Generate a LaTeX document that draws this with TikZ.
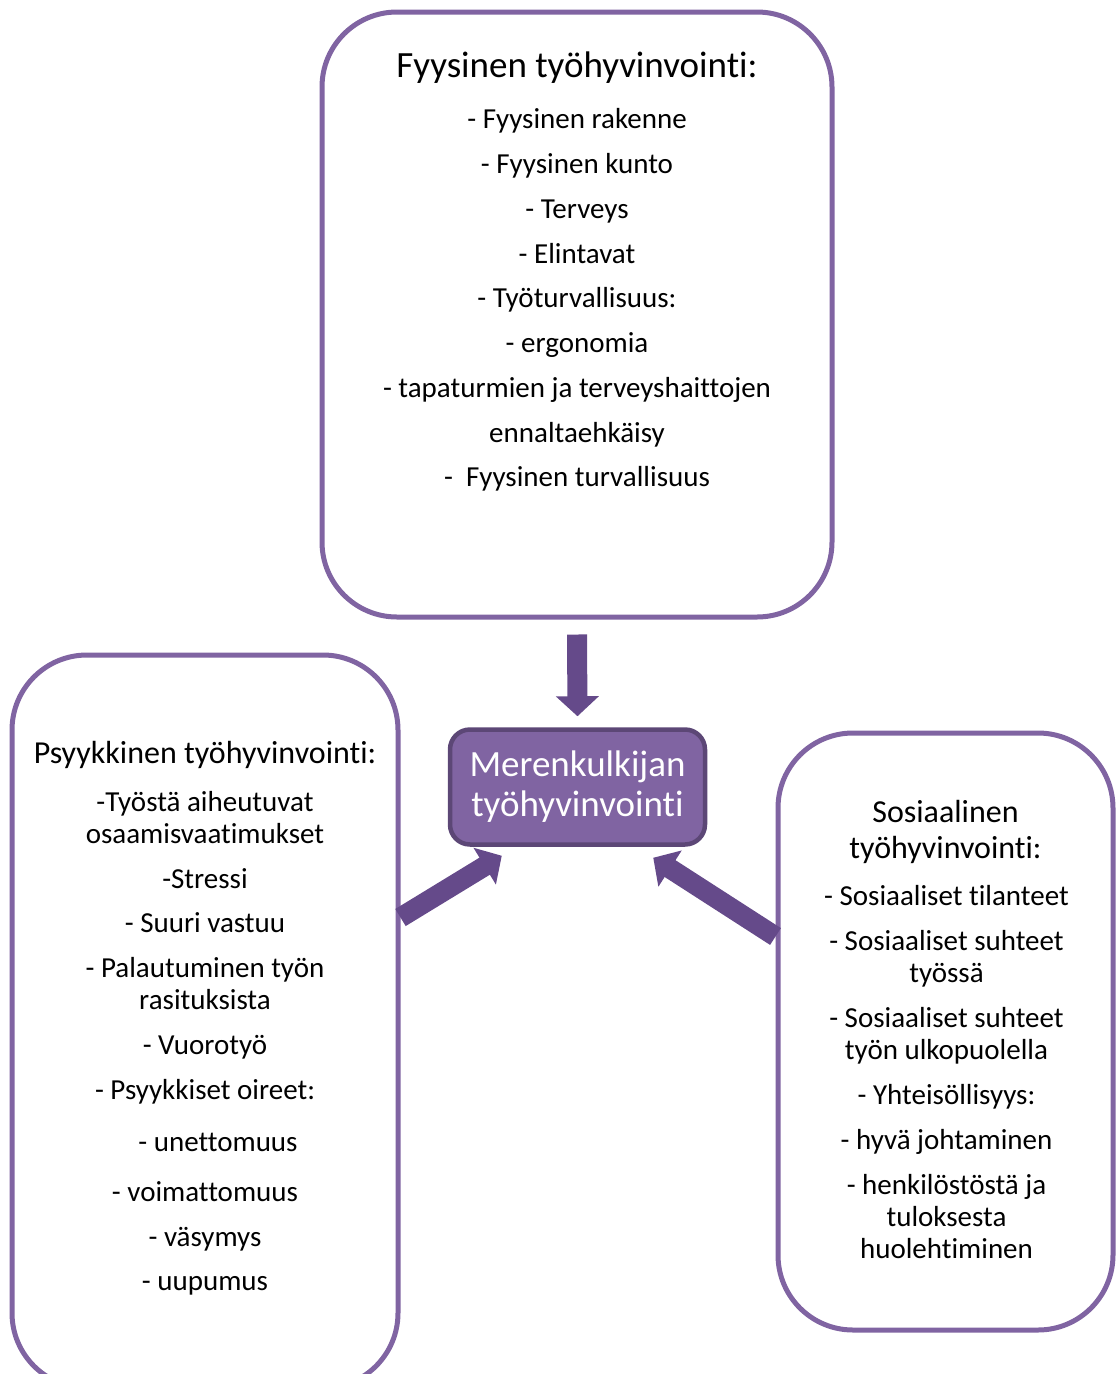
\documentclass[tikz,border=0pt]{standalone}
\usepackage{fontspec}
\setmainfont{Carlito}[Ligatures=NoCommon]
\usetikzlibrary{arrows.meta}
\definecolor{boxpurple}{HTML}{8064A2}
\definecolor{darkpurple}{HTML}{5C4776}
\definecolor{arrowpurple}{HTML}{654A8A}

\tikzset{
  areabox/.style={draw=boxpurple, line width=5pt, rounded corners=75pt, inner sep=0pt},
  headline/.style={font=\fontsize{32}{36}\selectfont, text height=27pt, text depth=8pt, inner sep=0pt},
  itemline/.style={font=\fontsize{29}{32}\selectfont, text height=25pt, text depth=7pt, inner sep=0pt},
  bigarrow/.style={draw=arrowpurple, line width=20pt, -{Triangle[length=20pt, width=42pt]}},
}

\begin{document}
\begin{tikzpicture}[x=1pt, y=-1pt]
  \useasboundingbox (0,0) rectangle (1117,1374);
  % the three areas
  \node[areabox, minimum width=510pt, minimum height=605pt] (fys) at (577,314.5) {};
  \node[areabox, minimum width=386pt, minimum height=733pt] (psy) at (205,1021.5) {};
  \node[areabox, minimum width=335pt, minimum height=597pt] (soc) at (945.5,1031.5) {};
  % centre
  \node[fill=boxpurple, draw=darkpurple, line width=4.5pt, rounded corners=20pt,
    minimum width=255pt, minimum height=115pt, inner sep=0pt, align=center,
    text=white, font=\fontsize{37}{40}\selectfont] (centre) at (577.5,787)
    {Merenkulkijan\\työhyvinvointi};

  % physical
  \node[headline, font=\fontsize{37}{40}\selectfont, text height=30pt, text depth=9pt] (fyshead) at (577,67) {Fyysinen työhyvinvointi:};
  \foreach \yy/\txt [count=\i] in {119/- Fyysinen rakenne, 164/- Fyysinen kunto, 209/- Terveys,
      254/- Elintavat, 298/- Työturvallisuus:, 343/- ergonomia,
      388/- tapaturmien ja terveyshaittojen, 433/ennaltaehkäisy, 477/- \ Fyysinen turvallisuus}
    \node[itemline] (fys\i) at (577,\yy) {\txt};

  % psychological
  \node[headline] (psyhead) at (205,754) {Psyykkinen työhyvinvointi:};
  \foreach \yy/\txt [count=\i] in {802/-Työstä aiheutuvat, 834/osaamisvaatimukset, 879/-Stressi,
      923/- Suuri vastuu, 968/- Palautuminen työn, 1000/rasituksista, 1045/- Vuorotyö,
      1090/- Psyykkiset oireet:, 1142/\hspace*{26pt}- unettomuus, 1192/- voimattomuus,
      1237/- väsymys, 1281/- uupumus}
    \node[itemline] (psy\i) at (205,\yy) {\txt};

  % social
  \node[headline] (sochead1) at (945.5,813) {Sosiaalinen};
  \node[headline] (sochead2) at (945.5,849) {työhyvinvointi:};
  \foreach \yy/\txt [count=\i] in {896/- Sosiaaliset tilanteet, 941/- Sosiaaliset suhteet, 973/työssä,
      1018/- Sosiaaliset suhteet, 1050/työn ulkopuolella, 1095/- Yhteisöllisyys:,
      1140/- hyvä johtaminen, 1185/- henkilöstöstä ja, 1217/tuloksesta, 1249/huolehtiminen}
    \node[itemline] (soc\i) at (946.5,\yy) {\txt};

  % arrows into the centre
  \draw[bigarrow] ([yshift=-15pt]fys.south) -- ([yshift=11pt]centre.north);
  \draw[bigarrow] ([yshift=-265pt]psy.north east) -- ([shift={(54pt,-9pt)}]centre.south west);
  \draw[bigarrow] ([yshift=-206pt]soc.north west) -- ([shift={(-54pt,-11pt)}]centre.south east);
\end{tikzpicture}
\end{document}
